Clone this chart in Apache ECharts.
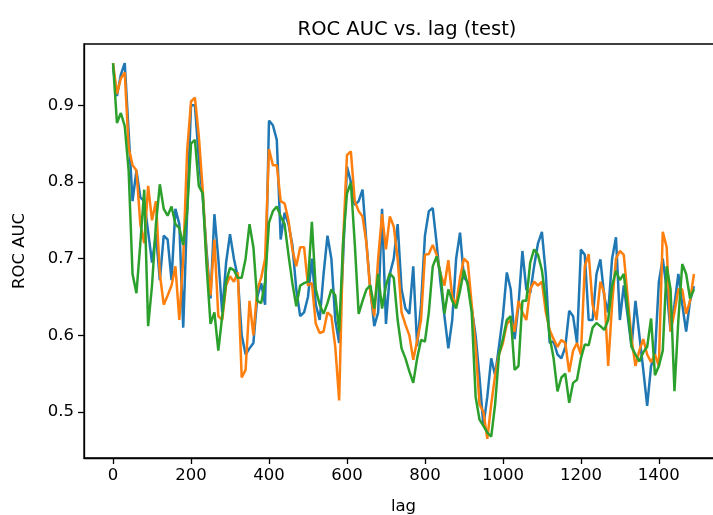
<!DOCTYPE html>
<html>
<head>
<meta charset="utf-8">
<script src="https://cdn.jsdelivr.net/npm/echarts@6/dist/echarts.min.js"></script>
<style>
html,body{margin:0;padding:0;background:#fff;}
#c{width:713px;height:515px;}
</style>
</head>
<body>
<div id="c"></div>
<script>
const lagStep = 10;
const xTicks = [0, 200, 400, 600, 800, 1000, 1200, 1400];
const yTicks = [0.5, 0.6, 0.7, 0.8, 0.9];

const blue = [
0.950,0.912,0.940,0.955,0.865,0.775,0.815,0.780,0.775,0.735,
0.695,0.732,0.672,0.730,0.725,0.672,0.765,0.745,0.610,0.760,
0.900,0.900,0.830,0.780,0.710,0.648,0.758,0.700,0.630,0.695,
0.732,0.700,0.676,0.600,0.575,0.583,0.590,0.650,0.668,0.640,
0.880,0.874,0.855,0.725,0.760,0.745,0.718,0.660,0.625,0.630,
0.650,0.700,0.640,0.620,0.680,0.730,0.700,0.620,0.590,0.700,
0.820,0.800,0.770,0.775,0.790,0.720,0.660,0.612,0.630,0.765,
0.615,0.680,0.700,0.745,0.660,0.635,0.628,0.690,0.586,0.640,
0.730,0.762,0.766,0.720,0.668,0.625,0.583,0.620,0.700,0.734,
0.675,0.670,0.635,0.600,0.545,0.482,0.520,0.570,0.548,0.586,
0.625,0.682,0.660,0.595,0.640,0.710,0.660,0.655,0.690,0.720,
0.735,0.680,0.590,0.592,0.575,0.570,0.585,0.632,0.625,0.590,
0.712,0.705,0.620,0.620,0.680,0.699,0.650,0.630,0.700,0.728,
0.620,0.665,0.625,0.585,0.645,0.600,0.555,0.508,0.560,0.575,
0.670,0.700,0.660,0.605,0.640,0.680,0.640,0.605,0.645,0.664
];
const orange = [
0.955,0.915,0.935,0.943,0.845,0.822,0.815,0.745,0.720,0.795,
0.750,0.775,0.680,0.640,0.652,0.665,0.690,0.620,0.700,0.840,
0.905,0.910,0.860,0.790,0.700,0.652,0.725,0.625,0.620,0.665,
0.677,0.670,0.682,0.545,0.555,0.645,0.600,0.660,0.675,0.700,
0.843,0.822,0.822,0.775,0.772,0.750,0.712,0.690,0.715,0.715,
0.665,0.668,0.615,0.603,0.605,0.630,0.625,0.585,0.515,0.720,
0.835,0.840,0.775,0.762,0.755,0.720,0.655,0.625,0.700,0.758,
0.712,0.755,0.742,0.700,0.630,0.614,0.600,0.568,0.593,0.620,
0.705,0.706,0.718,0.705,0.680,0.665,0.698,0.650,0.640,0.675,
0.700,0.695,0.640,0.585,0.510,0.500,0.465,0.510,0.548,0.575,
0.590,0.615,0.620,0.605,0.645,0.630,0.620,0.660,0.670,0.665,
0.670,0.630,0.607,0.595,0.585,0.594,0.590,0.552,0.580,0.590,
0.575,0.690,0.706,0.640,0.620,0.670,0.655,0.560,0.640,0.700,
0.710,0.705,0.650,0.595,0.560,0.580,0.595,0.575,0.565,0.575,
0.560,0.735,0.715,0.605,0.630,0.660,0.660,0.628,0.645,0.680
];
const green = [
0.955,0.877,0.890,0.873,0.815,0.680,0.655,0.720,0.790,0.612,
0.665,0.745,0.797,0.765,0.756,0.768,0.745,0.740,0.718,0.760,
0.850,0.855,0.795,0.785,0.690,0.615,0.630,0.580,0.625,0.670,
0.688,0.685,0.675,0.675,0.700,0.745,0.715,0.645,0.642,0.670,
0.747,0.762,0.768,0.755,0.745,0.705,0.668,0.638,0.665,0.668,
0.670,0.748,0.660,0.640,0.628,0.642,0.660,0.652,0.605,0.720,
0.785,0.799,0.720,0.628,0.645,0.660,0.665,0.635,0.680,0.635,
0.665,0.681,0.675,0.620,0.583,0.570,0.553,0.538,0.570,0.594,
0.592,0.630,0.690,0.703,0.680,0.628,0.660,0.645,0.635,0.658,
0.685,0.665,0.630,0.520,0.490,0.482,0.473,0.468,0.510,0.575,
0.595,0.620,0.625,0.555,0.560,0.645,0.645,0.695,0.712,0.705,
0.685,0.645,0.598,0.570,0.527,0.545,0.550,0.512,0.538,0.542,
0.570,0.588,0.587,0.610,0.616,0.612,0.607,0.620,0.665,0.684,
0.672,0.680,0.635,0.585,0.575,0.566,0.578,0.585,0.622,0.548,
0.560,0.580,0.690,0.660,0.527,0.620,0.693,0.680,0.648,0.660
];

const colors = ['#1f77b4', '#ff7f0e', '#2ca02c'];
const FONT = 'DejaVu Sans';

function toPairs(arr) { return arr.map((v, i) => [i * lagStep, v]); }

const chart = echarts.init(document.getElementById('c'), null, {renderer: 'canvas'});
chart.setOption({
  animation: false,
  backgroundColor: '#fff',
  title: {
    text: 'ROC AUC vs. lag (test)',
    left: 402, top: 15, textAlign: 'center',
    textStyle: {fontFamily: FONT, fontSize: 19.5, fontWeight: 'normal', color: '#000'}
  },
  grid: {left: 84, top: 44, width: 639, height: 414, show: true, borderColor: '#000', borderWidth: 1.3,
    backgroundColor: 'transparent', outerBoundsMode: 'none', containLabel: false},
  xAxis: {
    type: 'value', min: -74.5, max: 1564.5,
    name: 'lag', nameLocation: 'middle', nameGap: 40,
    nameTextStyle: {fontFamily: FONT, fontSize: 16.5, color: '#000'},
    axisLine: {show: true, onZero: false, lineStyle: {color: '#000', width: 1.3}},
    axisTick: {show: true, customValues: xTicks, length: 6, lineStyle: {color: '#000', width: 1.3}},
    axisLabel: {customValues: xTicks, margin: 9, fontFamily: FONT, fontSize: 16.5, color: '#000',
      formatter: v => String(Math.round(v))},
    splitLine: {show: false}
  },
  yAxis: {
    type: 'value', min: 0.44, max: 0.98,
    name: 'ROC AUC', nameLocation: 'middle', nameGap: 56,
    nameTextStyle: {fontFamily: FONT, fontSize: 16.5, color: '#000'},
    axisLine: {show: true, onZero: false, lineStyle: {color: '#000', width: 1.3}},
    axisTick: {show: true, customValues: yTicks, length: 6, lineStyle: {color: '#000', width: 1.3}},
    axisLabel: {customValues: yTicks, margin: 10, fontFamily: FONT, fontSize: 16.5, color: '#000',
      formatter: v => v.toFixed(1)},
    splitLine: {show: false}
  },
  series: [blue, orange, green].map((arr, k) => ({
    type: 'line', data: toPairs(arr), showSymbol: false, symbol: 'none',
    lineStyle: {color: colors[k], width: 2.5}, itemStyle: {color: colors[k]},
    clip: true
  }))
});
</script>
</body>
</html>
